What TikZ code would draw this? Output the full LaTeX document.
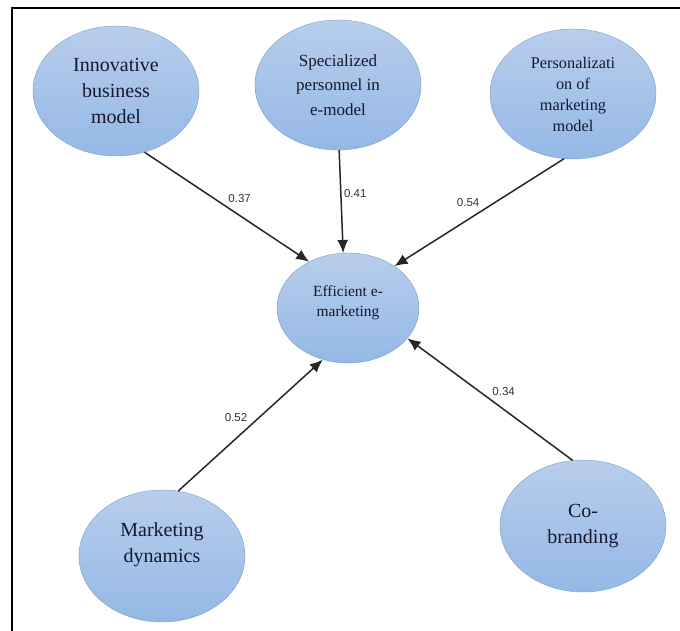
\documentclass[tikz,border=0pt]{standalone}
\usepackage{fontspec}
\setmainfont{Liberation Serif}
\newfontfamily\numfont{Liberation Sans}
\usetikzlibrary{arrows.meta,shapes.geometric}
\definecolor{ovaltop}{RGB}{184,206,236}
\definecolor{ovalbot}{RGB}{148,184,230}
\definecolor{ovalline}{RGB}{126,156,200}
\definecolor{inktext}{RGB}{24,24,44}

\begin{document}
\begin{tikzpicture}[x=1pt,y=-1pt,->,>={Latex[length=13pt,width=11pt]},auto]
 \tikzstyle{factor}=[ellipse,draw=ovalline,thin,top color=ovaltop,bottom color=ovalbot,text=inktext,minimum width=166pt,minimum height=130pt,inner sep=0pt,align=center,font=\fontsize{20}{26}\selectfont]
 \tikzstyle{coef}=[font=\numfont\fontsize{11.5}{13}\selectfont,inner sep=2.5pt,text=black!80]
 \tikzstyle{link}=[line width=1.5pt,black!85]

   \useasboundingbox (0,0) rectangle (680,631);
   \draw[-,line width=2pt] (12,631) -- (12,8) -- (680,8);

   \node[factor] (inno) at (116,91) {Innovative\\business\\model};
   \node[factor,font=\fontsize{17}{24.5}\selectfont] (spec) at (338,85) {Specialized\\personnel in\\e-model};
   \node[factor,font=\fontsize{16.3}{21}\selectfont] (pers) at (573,94) {Personalizati\\on of\\marketing\\model};
   % text of these sits above the middle
   \node[factor,minimum width=142pt,minimum height=110pt,font=\fontsize{15.5}{19.5}\selectfont] (eff) at (348,308) {Efficient e-\\marketing\\[-6pt]\mbox{}};
   \node[factor,minimum height=132pt] (mark) at (162,556) {Marketing\\dynamics\\\mbox{}};
   \node[factor,minimum height=132pt] (cobr) at (583,526) {Co-\\branding};

   \path[link]
   (inno.-65) edge node[coef,pos=0.49] (w37) {0.37} (eff.130)
   (spec.-89) edge node[coef,pos=0.42] (w41) {0.41} (eff.95)
   (pers.-98) edge node[coef,pos=0.48,swap] (w54) {0.54} (eff.42)
   (mark.76) edge node[coef,pos=0.50] (w52) {0.52} (eff.-116)
   (cobr.99) edge node[coef,pos=0.505,swap] (w34) {0.34} (eff.-27);

\end{tikzpicture}
\end{document}
